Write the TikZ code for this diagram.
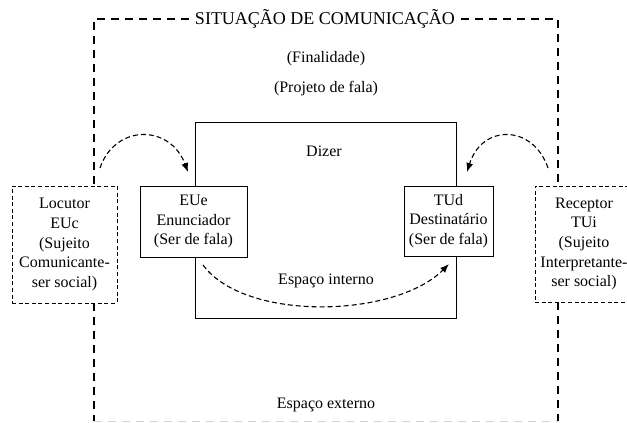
\documentclass[tikz,border=0pt]{standalone}
\usepackage{fontspec}
\setmainfont{Liberation Serif}
\usetikzlibrary{arrows.meta}
\begin{document}
\begin{tikzpicture}[x=1pt,y=-1pt,
  txt/.style={font=\fontsize{16}{19.6}\selectfont, align=center, inner sep=0pt},
  solidbox/.style={draw, line width=0.9pt, fill=white, txt},
  dashbox/.style={draw, line width=0.9pt, dash pattern=on 4pt off 2.6pt, fill=white, txt},
  outer/.style={line width=1.4pt, dash pattern=on 8pt off 6pt},
  darrow/.style={line width=1.1pt, dash pattern=on 5pt off 3pt, -{Latex[length=9pt,width=7pt]}}
]
\useasboundingbox (0,0) rectangle (627,423);
\clip (0,0) rectangle (627,423);
\fill[white] (0,0) rectangle (627,423);

% inner box
\node[draw, line width=0.9pt, minimum width=261pt, minimum height=196pt, inner sep=0pt] (inner) at (325.5,220) {};

% side boxes
\node[solidbox, minimum width=107pt, minimum height=71pt] (eue) at (193.5,221.5) {EUe\\Enunciador\\(Ser de fala)};
\node[solidbox, minimum width=89pt, minimum height=70pt] (tud) at (448.5,221) {TUd\\Destinatário\\(Ser de fala)};
\node[dashbox, minimum width=105pt, minimum height=117pt] (loc) at (64.5,244.5) {Locutor\\EUc\\(Sujeito\\Comunicante-\\ser social)};
\node[dashbox, minimum width=98pt, minimum height=116pt] (rec) at (584,244) {Receptor\\TUi\\(Sujeito\\Interpretante-\\ser social)};

% title and texts
\node[txt, font=\fontsize{18}{20}\selectfont, fill=white, inner xsep=6pt] (title) at (325,19) {SITUAÇÃO DE COMUNICAÇÃO};
\node[txt] (fin) at (326,59) {(Finalidade)};
\node[txt] (proj) at (326,89) {(Projeto de fala)};
\node[txt] (dizer) at (324,151) {Dizer};
\node[txt] (interno) at (326,281) {Espaço interno};
\node[txt] (externo) at (326,405) {Espaço externo};

% outer dashed frame
\coordinate (tl) at (94,19);
\coordinate (tr) at (558,19);
\coordinate (bl) at (94,421);
\coordinate (br) at (558,421);
\draw[outer] (title.west) -- (tl) -- (loc.north -| tl);
\draw[outer] (title.east) -- (tr) -- (rec.north -| tr);
\draw[outer] (loc.south -| bl) -- (bl);
\draw[outer] (rec.south -| br) -- (br);
\draw[line width=1pt, gray!35, dash pattern=on 8pt off 6pt] (bl) -- (br);

% arrows
\coordinate (a1s) at (100,168);
\coordinate (a1e) at (188,172);
\coordinate (a2s) at (548,168);
\coordinate (a2e) at (467,172);
\coordinate (a3s) at (203,265);
\coordinate (a3e) at (449,264);
\draw[darrow] (a1s) .. controls (115,124) and (170,124) .. (a1e);
\draw[darrow] (a2s) .. controls (533,124) and (482,124) .. (a2e);
\draw[darrow] (a3s) .. controls (245,322) and (395,318) .. (a3e);
\end{tikzpicture}
\end{document}
